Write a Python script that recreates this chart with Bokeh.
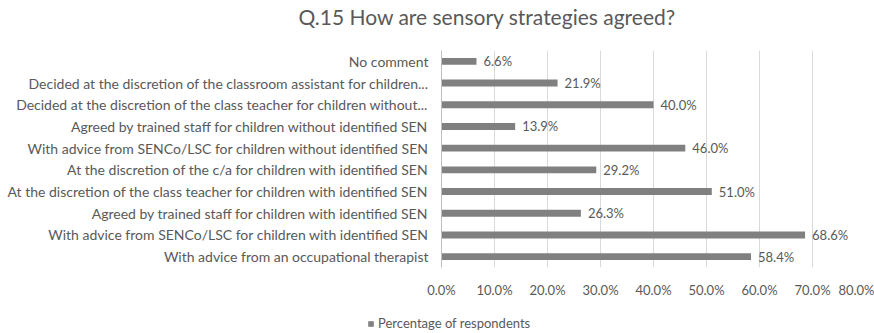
from bokeh.plotting import figure
from bokeh.layouts import column
from bokeh.models import ColumnDataSource, FactorRange, Range1d, Legend, LegendItem, Title, FixedTicker
from bokeh.embed import file_html
from bokeh.resources import INLINE
from bokeh.core.properties import value

title_text = "Q.15 How are sensory strategies agreed?"
categories = [
    "No comment",
    "Decided at the discretion of the classroom assistant for children...",
    "Decided at the discretion of the class teacher for children without...",
    "Agreed by trained staff for children without identified SEN",
    "With advice from SENCo/LSC for children without identified SEN",
    "At the discretion of the c/a for children with identified SEN",
    "At the discretion of the class teacher for children with identified SEN",
    "Agreed by trained staff for children with identified SEN",
    "With advice from SENCo/LSC for children with identified SEN",
    "With advice from an occupational therapist",
]
percentages = [6.6, 21.9, 40.0, 13.9, 46.0, 29.2, 51.0, 26.3, 68.6, 58.4]
x_ticks = [0, 10, 20, 30, 40, 50, 60, 70, 80]
series_name = "Percentage of respondents"

FONT = "Lato"
TEXT = "#595959"
BAR = "#808080"


def strip(height):
    f = figure(width=874, height=height, x_range=Range1d(0, 1), y_range=Range1d(0, 1),
               output_backend="svg", toolbar_location=None,
               min_border_left=0, min_border_right=0, min_border_top=0, min_border_bottom=0)
    f.frame_align = False
    f.axis.visible = False
    f.grid.visible = False
    f.outline_line_color = None
    f.title = None
    return f


# title strip
p0 = strip(35)
p0.add_layout(Title(text=title_text, align="left", offset=298, text_font=FONT,
                    text_font_size="21px", text_font_style="normal",
                    text_color=TEXT, standoff=2), "above")

# main chart
src = ColumnDataSource(dict(
    cat=categories,
    val=percentages,
    lab=[f"{v:.1f}%" for v in percentages],
))

p = figure(
    width=874, height=265,
    y_range=FactorRange(*list(reversed(categories))),
    x_range=Range1d(0, 80),
    output_backend="svg", toolbar_location=None,
    min_border_left=441, min_border_right=9, min_border_top=15, min_border_bottom=30,
)
p.title = None
p.outline_line_color = None
p.frame_align = False

p.hbar(y="cat", right="val", left=0, height=0.32, source=src,
       fill_color=BAR, line_color=None)
p.text(x="val", y="cat", text="lab", source=src, x_offset=7,
       text_baseline="middle", text_align="left",
       text_font=value(FONT), text_font_size="13px", text_color=TEXT)

p.xaxis.ticker = FixedTicker(ticks=x_ticks)
p.xaxis.major_label_overrides = {t: f"{t:.1f}%" for t in x_ticks}
p.xaxis.axis_line_color = None
p.xaxis.major_tick_line_color = None
p.xaxis.minor_tick_line_color = None
p.xaxis.major_tick_out = 0
p.xaxis.major_label_standoff = 14
p.xaxis.major_label_text_font = FONT
p.xaxis.major_label_text_font_size = "13px"
p.xaxis.major_label_text_color = TEXT

p.yaxis.axis_line_color = "#bfbfbf"
p.yaxis.major_tick_line_color = None
p.yaxis.minor_tick_line_color = None
p.yaxis.major_tick_out = 0
p.yaxis.major_label_standoff = 13
p.yaxis.major_label_text_font = FONT
p.yaxis.major_label_text_font_size = "14px"
p.yaxis.major_label_text_color = TEXT

p.xgrid.grid_line_color = "#d9d9d9"
p.ygrid.grid_line_color = None

# legend strip below the chart (legend proxy renderer is hidden)
p2 = strip(33)
leg_src = ColumnDataSource(dict(y=list(range(len(percentages))), right=percentages))
r2 = p2.hbar(y="y", right="right", left=0, height=0.3, source=leg_src,
             fill_color=BAR, line_color=None, visible=False)
legend = Legend(items=[LegendItem(label=series_name, renderers=[r2])],
                location=(367, 2), orientation="horizontal",
                label_text_font=FONT, label_text_font_size="13px", label_text_color=TEXT,
                glyph_width=7, glyph_height=7, label_standoff=4,
                padding=0, margin=0, border_line_color=None, background_fill_alpha=0,
                inactive_fill_alpha=0, label_height=16)
p2.add_layout(legend, "center")

layout = column(p0, p, p2, spacing=0)
open("out.html", "w").write(file_html(layout, INLINE))
